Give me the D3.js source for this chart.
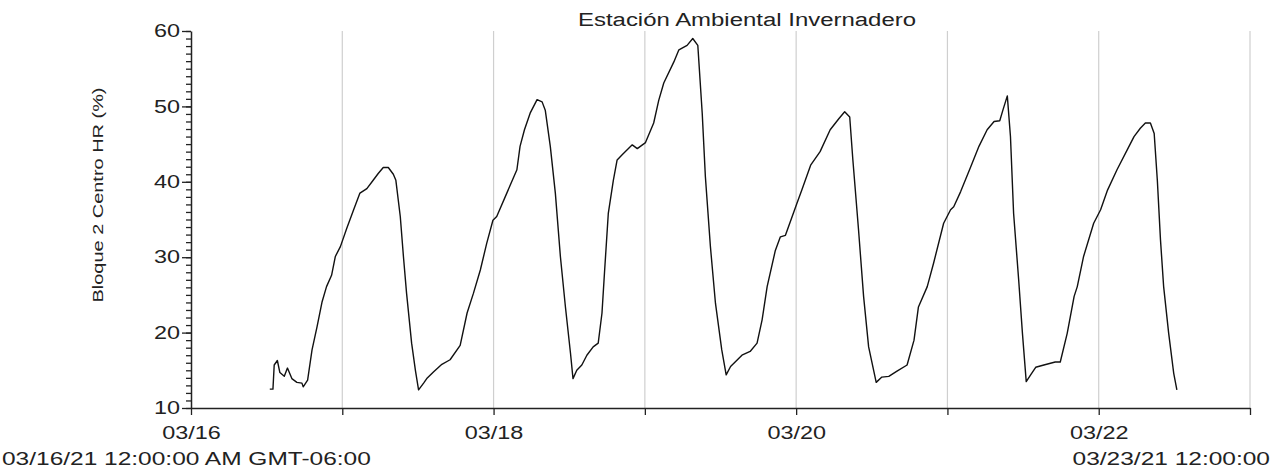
<!DOCTYPE html>
<html>
<head>
<meta charset="utf-8">
<script src="https://cdn.jsdelivr.net/npm/d3@7"></script>
<style>
  body { margin: 0; background: #fff; }
  text { font-family: "Liberation Sans", Arial, sans-serif; fill: #222; }
</style>
</head>
<body>
<div id="chart"></div>
<script>
// readings: [hours since 03/16 00:00, relative humidity %]
const readings = [
  [12.5, 12.5], [13.0, 12.5], [13.2, 15.7], [13.7, 16.3], [14.1, 14.7], [14.8, 14.2],
  [15.3, 15.3], [16.0, 13.9], [16.8, 13.4], [17.6, 13.3], [17.8, 12.8], [18.5, 13.7],
  [19.2, 17.7], [20.0, 20.8], [20.8, 24.1], [21.5, 26.1], [22.3, 27.6], [22.9, 30.1],
  [23.7, 31.4], [24.7, 33.8], [25.8, 36.3], [26.8, 38.5], [27.9, 39.1], [28.9, 40.2],
  [29.7, 41.1], [30.5, 41.9], [31.3, 41.9], [32.1, 41.0], [32.5, 40.2], [33.2, 35.4],
  [33.7, 30.1], [34.2, 25.2], [35.0, 18.6], [35.6, 15.0], [36.1, 12.4], [36.9, 13.3],
  [37.4, 13.9], [38.5, 14.8], [39.8, 15.8], [41.1, 16.4], [42.7, 18.3], [43.8, 22.6],
  [44.8, 25.2], [45.9, 28.3], [46.9, 31.8], [47.9, 34.9], [48.5, 35.4], [50.1, 38.5],
  [51.7, 41.6], [52.2, 44.7], [52.9, 46.9], [53.8, 49.1], [54.9, 50.9], [55.7, 50.6],
  [56.2, 49.5], [57.0, 44.7], [57.8, 38.5], [58.6, 30.1], [59.4, 23.4], [60.2, 17.3],
  [60.6, 13.9], [61.2, 15.0], [62.0, 15.7], [62.8, 17.0], [63.8, 18.1], [64.6, 18.6],
  [65.2, 22.6], [65.6, 28.0], [66.2, 35.8], [67.0, 40.2], [67.6, 42.9], [68.4, 43.6],
  [70.0, 44.9], [70.8, 44.4], [72.1, 45.2], [73.4, 47.8], [74.2, 50.8], [75.0, 53.1],
  [76.6, 55.9], [77.4, 57.5], [78.7, 58.1], [79.6, 59.0], [80.4, 58.1], [81.1, 49.1],
  [81.6, 40.7], [82.4, 31.4], [83.2, 23.9], [84.2, 17.7], [84.9, 14.4], [85.6, 15.5],
  [87.4, 17.0], [88.7, 17.5], [89.8, 18.6], [90.6, 21.7], [91.4, 26.1], [92.7, 30.9],
  [93.5, 32.7], [94.3, 32.9], [96.1, 37.1], [96.9, 38.9], [98.3, 42.2], [99.8, 44.0],
  [101.4, 46.9], [102.8, 48.4], [103.7, 49.3], [104.5, 48.6], [105.0, 42.9], [105.9, 33.6],
  [106.7, 24.8], [107.5, 18.1], [108.7, 13.4], [109.6, 14.1], [110.7, 14.2], [112.0, 14.9],
  [113.6, 15.7], [114.7, 19.0], [115.4, 23.4], [116.8, 26.1], [117.8, 29.2], [119.4, 34.5],
  [120.5, 36.3], [121.0, 36.7], [122.1, 38.7], [123.7, 42.0], [125.0, 44.7], [126.3, 46.9],
  [127.4, 48.0], [128.3, 48.1], [128.8, 49.5], [129.5, 51.4], [130.0, 46.0], [130.5, 35.8],
  [131.3, 27.0], [131.9, 19.9], [132.5, 13.5], [133.2, 14.4], [134.0, 15.4], [135.3, 15.7],
  [137.1, 16.1], [137.9, 16.1], [139.0, 19.9], [140.1, 24.8], [140.6, 26.1], [141.6, 30.1],
  [143.2, 34.5], [144.3, 36.3], [145.4, 38.9], [146.9, 41.6], [148.5, 44.2], [149.6, 46.0],
  [150.6, 47.1], [151.4, 47.8], [152.2, 47.8], [152.8, 46.4], [153.3, 40.2], [153.8, 32.3],
  [154.3, 26.1], [155.1, 19.9], [155.9, 14.6], [156.4, 12.4]
];
const yDomain = [10, 60];
const yMajor = [10, 20, 30, 40, 50, 60];
const dayLabels = ["03/16", "03/18", "03/20", "03/22"];
const title = "Estación Ambiental Invernadero";
const yTitle = "Bloque 2 Centro HR (%)";
const startLabel = "03/16/21 12:00:00 AM GMT-06:00";
const endLabel = "03/23/21 12:00:00";

const W = 1277, H = 471;
const margin = { top: 31, right: 27, bottom: 63, left: 191 };

const t0 = new Date(2021, 2, 16), t1 = new Date(2021, 2, 23);
const hourToDate = (h) => new Date(t0.getTime() + h * 3600 * 1000);

const svg = d3.select("#chart").append("svg")
  .attr("width", W).attr("height", H);

const x = d3.scaleTime().domain([t0, t1]).range([margin.left, W - margin.right]);
const y = d3.scaleLinear().domain(yDomain).range([H - margin.bottom, margin.top]);

// stretch text horizontally like the reference rendering
function widen(sel, k) {
  sel.each(function () {
    const w = this.getComputedTextLength();
    this.setAttribute("textLength", w * k);
    this.setAttribute("lengthAdjust", "spacingAndGlyphs");
  });
}

const days = d3.timeDay.range(t0, d3.timeDay.offset(t1, 1));

// vertical grid
svg.append("g")
  .selectAll("line")
  .data(days.slice(1))
  .join("line")
  .attr("x1", (d) => x(d)).attr("x2", (d) => x(d))
  .attr("y1", y(yDomain[1])).attr("y2", y(yDomain[0]))
  .attr("stroke", "#cfcfcf").attr("stroke-width", 1.2);

// y axis: minor ticks
svg.append("g")
  .attr("transform", "translate(" + margin.left + ",0)")
  .call(d3.axisLeft(y).ticks(50).tickSize(5).tickFormat(""))
  .call((g) => g.select(".domain").remove())
  .selectAll("line").attr("stroke", "#222").attr("stroke-width", 1.3);

// y axis: major ticks
const yAxis = svg.append("g")
  .attr("transform", "translate(" + margin.left + ",0)")
  .call(d3.axisLeft(y).tickValues(yMajor).tickSize(9).tickSizeOuter(0).tickPadding(2));
yAxis.select(".domain").attr("stroke", "#222").attr("stroke-width", 1.5);
yAxis.selectAll("line").attr("stroke", "#222").attr("stroke-width", 1.3);
yAxis.selectAll("text").style("font-size", "18px").attr("fill", "#333");
widen(yAxis.selectAll("text"), 1.3);

// x axis
const xAxis = svg.append("g")
  .attr("transform", "translate(0," + (H - margin.bottom) + ")")
  .call(d3.axisBottom(x).tickValues(days).tickSize(7).tickSizeOuter(0).tickPadding(11)
    .tickFormat((d) => {
      const s = d3.timeFormat("%m/%d")(d);
      return dayLabels.includes(s) ? s : "";
    }));
xAxis.select(".domain").attr("stroke", "#222").attr("stroke-width", 1.5);
xAxis.selectAll("line").attr("stroke", "#222").attr("stroke-width", 1.3);
xAxis.selectAll("text").style("font-size", "18px").attr("fill", "#333");
widen(xAxis.selectAll("text"), 1.3);

// data line
const line = d3.line()
  .x((d) => x(hourToDate(d[0])))
  .y((d) => y(d[1]));

svg.append("path")
  .datum(readings)
  .attr("fill", "none")
  .attr("stroke", "#111")
  .attr("stroke-width", 1.4)
  .attr("stroke-linejoin", "round")
  .attr("d", line);

// title
const t = svg.append("text")
  .attr("x", 747).attr("y", 26)
  .attr("text-anchor", "middle")
  .style("font-size", "18px")
  .text(title);
widen(t, 1.33);

// y title
svg.append("text")
  .attr("transform", "translate(103,195) rotate(-90)")
  .attr("text-anchor", "middle")
  .attr("textLength", 215)
  .attr("lengthAdjust", "spacingAndGlyphs")
  .style("font-size", "15px")
  .text(yTitle);

// range labels
const s = svg.append("text")
  .attr("x", 2).attr("y", 465)
  .style("font-size", "18px").attr("fill", "#333")
  .text(startLabel);
widen(s, 1.36);

const e = svg.append("text")
  .attr("x", 1270).attr("y", 465)
  .attr("text-anchor", "end")
  .style("font-size", "18px").attr("fill", "#333")
  .text(endLabel);
widen(e, 1.36);
</script>
</body>
</html>
